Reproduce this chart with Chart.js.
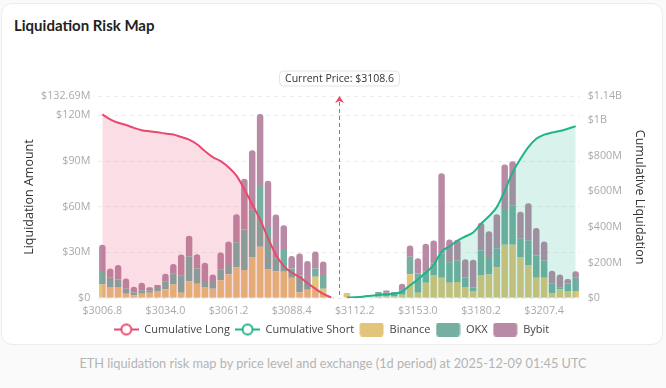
<!DOCTYPE html>
<html>
<head>
<meta charset="utf-8">
<script src="https://cdn.jsdelivr.net/npm/chart.js@4.4.1/dist/chart.umd.min.js"></script>
<style>
  html, body { margin: 0; padding: 0; background: #fafafa; }
  body { width: 666px; height: 388px; position: relative; overflow: hidden; font-family: "Open Sans", sans-serif; }
  .card { position: absolute; left: 1px; top: 3px; width: 662px; height: 342px; background: #fff; border: 1px solid #ececec; border-radius: 11px; box-sizing: border-box; }
  .title { position: absolute; left: 14px; top: 16px; font: bold 15px Lato, sans-serif; color: #222; }
  .wrap { position: absolute; left: 0; top: 0; width: 666px; height: 346px; }
  .caption { position: absolute; left: 0; top: 355px; width: 666px; text-align: center; font: 12.75px Lato, sans-serif; color: #b4b4b4; }
</style>
</head>
<body>
<div class="card"></div>
<div class="title">Liquidation Risk Map</div>
<div class="wrap"><canvas id="riskChart"></canvas></div>
<div class="caption">ETH liquidation risk map by price level and exchange (1d period) at 2025-12-09 01:45 UTC</div>
<script>
// price levels (category axis), current price sits at index 30
const priceLevels = [
  "3006.8", "3010.2", "3013.6", "3017.0", "3020.4", "3023.8", "3027.2", "3030.6", "3034.0", "3037.4",
  "3040.8", "3044.2", "3047.6", "3051.0", "3054.4", "3057.8", "3061.2", "3064.6", "3068.0", "3071.4",
  "3074.8", "3078.2", "3081.6", "3085.0", "3088.4", "3091.8", "3095.2", "3098.6", "3102.0", "3105.4",
  "3108.6",
  "3108.8", "3112.2", "3117.3", "3122.4", "3127.5", "3132.6", "3137.7", "3142.8", "3147.9", "3153.0",
  "3156.4", "3159.8", "3163.2", "3166.6", "3170.0", "3173.4", "3176.8", "3180.2", "3183.6", "3187.0",
  "3190.4", "3193.8", "3197.2", "3200.6", "3204.0", "3207.4", "3210.8", "3214.2", "3217.6", "3221.0"
];
const currentPrice = 3108.6;
const currentIndex = 30;

// liquidation amount per exchange, in $M
const binance = [
  8.9, 7.3, 7.3, 2.9, 1.8, 2.9, 3.5, 4.4, 5.8, 8.9, 3.5, 11.1, 9.5, 7.3, 6.2, 11.8, 15.7, 20.2, 18.4, 26.6,
  33.7, 18.8, 17.7, 17.3, 13.3, 3.8, 5.5, 14.0, 6.2, 0.7,
  0,
  3.3, 0, 0, 0, 1.0, 1.0, 1.0, 2.2, 15.7, 3.5, 10.0, 15.1, 13.3, 10.0, 10.6, 7.3, 4.7, 15.1, 15.5,
  20.2, 35.0, 35.0, 26.6, 21.7, 13.3, 13.3, 3.3, 5.8, 4.7, 4.7
];
const okx = [
  8.9, 6.0, 4.9, 3.3, 1.8, 2.2, 1.6, 2.9, 5.3, 7.1, 11.5, 16.2, 10.0, 3.3, 4.4, 7.1, 6.0, 16.4, 26.6, 31.7,
  40.6, 27.3, 8.4, 14.9, 6.2, 11.1, 5.1, 5.5, 8.9, 0,
  0,
  0, 0, 0, 0, 3.0, 2.5, 3.0, 2.9, 11.5, 12.6, 7.3, 7.8, 16.2, 13.5, 14.0, 6.2, 2.2, 16.2, 11.5,
  12.6, 22.8, 25.9, 12.4, 16.0, 14.6, 11.3, 6.2, 1.3, 4.9, 8.6
];
const bybit = [
  17.3, 6.2, 9.5, 6.7, 3.8, 4.9, 2.0, 1.3, 4.9, 6.4, 13.7, 13.7, 9.3, 12.6, 4.9, 11.1, 15.5, 18.4, 33.3, 38.8,
  46.6, 31.0, 28.8, 15.7, 8.2, 14.4, 13.7, 11.1, 8.9, 0,
  0,
  0, 0, 0, 0, 0, 1.5, 0, 4.4, 7.3, 10.0, 18.4, 14.9, 52.5, 14.9, 13.7, 12.0, 18.2, 18.2, 16.9,
  22.2, 29.9, 29.0, 17.7, 24.6, 18.2, 12.6, 8.4, 8.4, 2.9, 4.4
];

// cumulative liquidation, in $M
const cumLong = [
  1032, 1004, 985, 972, 956, 943, 937, 932, 924, 919, 905, 890, 864, 826, 792, 769, 735, 688, 612, 527,
  441, 337, 243, 180, 144, 119, 85, 53, 24, 4,
  null,
  null, null, null, null, null, null, null, null, null, null, null, null, null, null, null, null, null, null, null,
  null, null, null, null, null, null, null, null, null, null, null
];
const cumShort = [
  null, null, null, null, null, null, null, null, null, null, null, null, null, null, null, null, null, null, null, null,
  null, null, null, null, null, null, null, null, null, null,
  null,
  3, 5, 8, 13, 18, 21, 25, 37, 72, 104, 144, 186, 261, 290, 322, 346, 369, 417, 460,
  511, 602, 706, 782, 848, 895, 918, 930, 939, 951, 966
];

// axis ticks ($M)
const amountTicks = [0, 30, 60, 90, 120, 132.69];
const cumulativeTicks = [0, 200, 400, 600, 800, 1000, 1135.2];

const colors = {
  long: "#e8496d",
  short: "#1fb48b",
  binance: "#e3c47b",
  okx: "#76aea2",
  bybit: "#b98aa5"
};

function fmtMoney(v) {
  if (v >= 1000) return "$" + parseFloat((v / 1000).toFixed(2)) + "B";
  if (v === 0) return "$0";
  return "$" + parseFloat(v.toFixed(2)) + "M";
}

// small canvases for the legend markers
function lineIcon(color) {
  const c = document.createElement("canvas");
  c.width = 25; c.height = 14;
  const g = c.getContext("2d");
  g.strokeStyle = color; g.lineWidth = 2;
  g.beginPath(); g.moveTo(0, 7); g.lineTo(25, 7); g.stroke();
  g.fillStyle = "#fff";
  g.beginPath(); g.arc(12.5, 7, 5, 0, Math.PI * 2); g.fill(); g.stroke();
  return c;
}
function boxIcon(color) {
  const c = document.createElement("canvas");
  c.width = 25; c.height = 14;
  const g = c.getContext("2d");
  g.fillStyle = color;
  g.beginPath(); g.roundRect(0.5, 0, 24, 14, 3); g.fill();
  return c;
}
const legendIcons = [lineIcon(colors.long), lineIcon(colors.short), boxIcon(colors.binance), boxIcon(colors.okx), boxIcon(colors.bybit)];

const axisTitleFont = "12.5px 'Open Sans'";

const overlayPlugin = {
  id: "overlay",
  afterDraw(chart) {
    const { ctx, chartArea } = chart;
    const midY = (chartArea.top + chartArea.bottom) / 2;
    ctx.save();
    ctx.font = axisTitleFont;
    ctx.fillStyle = "#333";
    ctx.textAlign = "center"; ctx.textBaseline = "middle";
    ctx.translate(29, midY); ctx.rotate(-Math.PI / 2);
    ctx.fillText("Liquidation Amount", 0, 0);
    ctx.restore();
    ctx.save();
    ctx.font = axisTitleFont;
    ctx.fillStyle = "#333";
    ctx.textAlign = "center"; ctx.textBaseline = "middle";
    ctx.translate(640, midY); ctx.rotate(Math.PI / 2);
    ctx.fillText("Cumulative Liquidation", 0, 0);
    ctx.restore();
  },
  afterDatasetsDraw(chart) {
    const { ctx, chartArea } = chart;
    const x = Math.round(chart.scales.x.getPixelForValue(currentIndex)) + 0.5;
    const top = chartArea.top;
    ctx.save();
    ctx.strokeStyle = colors.long;
    ctx.lineWidth = 1;
    ctx.setLineDash([4, 3]);
    ctx.beginPath(); ctx.moveTo(x, top + 6); ctx.lineTo(x, chartArea.bottom); ctx.stroke();
    ctx.setLineDash([]);
    ctx.fillStyle = colors.long;
    ctx.beginPath(); ctx.moveTo(x, top); ctx.lineTo(x - 4.5, top + 7); ctx.lineTo(x, top + 5); ctx.lineTo(x + 4.5, top + 7); ctx.closePath(); ctx.fill();

    const text = "Current Price: $" + currentPrice;
    ctx.font = "10.5px 'Open Sans'";
    const w = ctx.measureText(text).width + 11;
    const h = 15;
    const by = top - 25;
    ctx.fillStyle = "#fff";
    ctx.strokeStyle = "#e4e4e4";
    ctx.beginPath(); ctx.roundRect(x - w / 2, by, w, h, 4); ctx.fill(); ctx.stroke();
    ctx.fillStyle = "#333";
    ctx.textAlign = "center"; ctx.textBaseline = "middle";
    ctx.fillText(text, x, by + h / 2 + 0.5);
    ctx.restore();
  }
};

const tickFont = { family: "'Open Sans'", size: 10.75 };

new Chart(document.getElementById("riskChart"), {
  type: "bar",
  data: {
    labels: priceLevels,
    datasets: [
      {
        type: "line", label: "Cumulative Long", data: cumLong, yAxisID: "y1",
        borderColor: colors.long, backgroundColor: "rgba(232, 73, 109, 0.18)",
        borderWidth: 2, pointRadius: 0, fill: "origin", cubicInterpolationMode: "monotone"
      },
      {
        type: "line", label: "Cumulative Short", data: cumShort, yAxisID: "y1",
        borderColor: colors.short, backgroundColor: "rgba(31, 180, 139, 0.17)",
        borderWidth: 2, pointRadius: 0, fill: "origin", cubicInterpolationMode: "monotone"
      },
      { label: "Binance", data: binance, backgroundColor: colors.binance, yAxisID: "y" },
      { label: "OKX", data: okx, backgroundColor: colors.okx, yAxisID: "y" },
      { label: "Bybit", data: bybit, backgroundColor: colors.bybit, yAxisID: "y",
        borderRadius: { topLeft: 3, topRight: 3 }, borderSkipped: "start" }
    ]
  },
  options: {
    responsive: true,
    maintainAspectRatio: false,
    animation: false,
    datasets: { bar: { categoryPercentage: 1, barPercentage: 0.82 } },
    layout: { padding: { top: 96, left: 33, right: 36, bottom: 1 } },
    plugins: {
      tooltip: { enabled: false },
      legend: {
        position: "bottom",
        labels: {
          usePointStyle: true,
          pointStyleWidth: 25,
          boxHeight: 14,
          padding: 5,
          color: "#444",
          font: { family: "'Open Sans'", size: 11 },
          generateLabels(chart) {
            const items = Chart.defaults.plugins.legend.labels.generateLabels(chart);
            items.forEach((it, i) => { it.pointStyle = legendIcons[i]; });
            return items;
          }
        }
      }
    },
    scales: {
      x: {
        stacked: true,
        grid: { display: false, drawTicks: false },
        border: { display: false },
        afterFit(scale) { scale.height -= 4; },
        ticks: {
          autoSkip: false, maxRotation: 0, padding: 6, color: "#aaa", font: tickFont,
          callback(value, index) { return index % 8 === 0 ? "$" + priceLevels[index] : ""; }
        }
      },
      y: {
        stacked: true,
        position: "left",
        min: 0, max: amountTicks[amountTicks.length - 1],
        afterBuildTicks(scale) { scale.ticks = amountTicks.map(v => ({ value: v })); },
        grid: { color: "#ececec", drawTicks: false },
        border: { display: false, dash: [4, 4] },
        ticks: { padding: 8, color: "#aaa", font: tickFont, callback: v => fmtMoney(v) }
      },
      y1: {
        position: "right",
        min: 0, max: cumulativeTicks[cumulativeTicks.length - 1],
        afterBuildTicks(scale) { scale.ticks = cumulativeTicks.map(v => ({ value: v })); },
        grid: { display: false, drawTicks: false },
        border: { display: false },
        ticks: { padding: 8, color: "#aaa", font: tickFont, callback: v => fmtMoney(v) }
      }
    }
  },
  plugins: [overlayPlugin]
});
</script>
</body>
</html>
